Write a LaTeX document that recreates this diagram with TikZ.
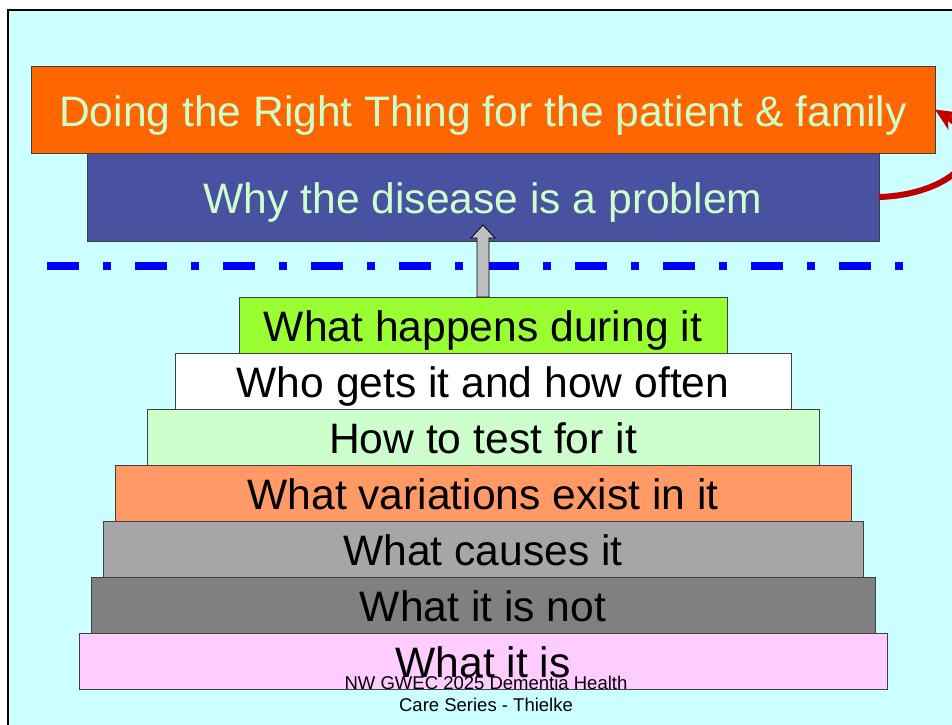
\documentclass[tikz,border=0pt]{standalone}
\usepackage{fontspec}
\setmainfont{Liberation Sans}
\usetikzlibrary{positioning,arrows.meta,calc}
\definecolor{slidecyan}{RGB}{204,255,255}
\definecolor{rightorange}{RGB}{255,102,0}
\definecolor{problemblue}{RGB}{72,82,160}
\definecolor{paletext}{RGB}{204,255,204}
\definecolor{limegreen}{RGB}{153,255,51}
\definecolor{testgreen}{RGB}{204,255,204}
\definecolor{salmon}{RGB}{255,153,102}
\definecolor{causegray}{RGB}{166,166,166}
\definecolor{notgray}{RGB}{128,128,128}
\definecolor{pinkbox}{RGB}{255,204,255}
\definecolor{curvered}{RGB}{192,0,0}

\begin{document}
\begin{tikzpicture}[x=1pt, y=-1pt, node distance=0pt,
    layer/.style={rectangle, draw=black!75, line width=0.8pt, inner sep=0pt, outer sep=0pt,
      minimum height=56pt, text height=33pt, text depth=0pt, font=\fontsize{42.6}{48}\selectfont},
    topbar/.style={layer, text=paletext}]
  \clip (0,0) rectangle (952,724);
  \fill[white] (0,0) rectangle (952,724);
  \draw[fill=slidecyan, line width=2pt] (8,10) rectangle (1000,1000);

  \node[topbar, fill=rightorange, minimum width=904pt, minimum height=87pt, anchor=north] (doing) at (483,66) {Doing the Right Thing for the patient \& family};
  \node[topbar, fill=problemblue, minimum width=792pt, minimum height=88pt, below=of doing] (why) {Why the disease is a problem};

  \draw[blue, line width=8pt, dash pattern=on 32pt off 24pt on 8pt off 24pt] (47,266) -- (905,266);

  \node[layer, fill=limegreen, minimum width=488pt, anchor=north] (happens) at (483,297) {What happens during it};
  \node[layer, fill=white, minimum width=616pt, below=of happens] (who) {Who gets it and how often};
  \node[layer, fill=testgreen, minimum width=672pt, below=of who] (test) {How to test for it};
  \node[layer, fill=salmon, minimum width=736pt, below=of test] (variations) {What variations exist in it};
  \node[layer, fill=causegray, minimum width=760pt, below=of variations] (causes) {What causes it};
  \node[layer, fill=notgray, minimum width=784pt, below=of causes] (isnot) {What it is not};
  \node[layer, fill=pinkbox, minimum width=808pt, below=of isnot] (itis) {What it is};

  % block arrow up to the blue bar
  \draw[fill=black!25, line width=0.8pt] ($(happens.north)+(-6,0)$) -- ++(0,-59) -- ++(-6,0) -- ++(12,-13) -- ++(12,13) -- ++(-6,0) -- ++(0,59) -- cycle;

  \draw[curvered, line width=6pt, -{Stealth[length=22pt,width=20pt]}] (why.east) .. controls (950,195) and (1000,150) .. (doing.east);

  \node[align=center, font=\fontsize{18.5}{22}\selectfont] (footer) at (486,694) {NW GWEC 2025 Dementia Health\\Care Series - Thielke};
\end{tikzpicture}
\end{document}
